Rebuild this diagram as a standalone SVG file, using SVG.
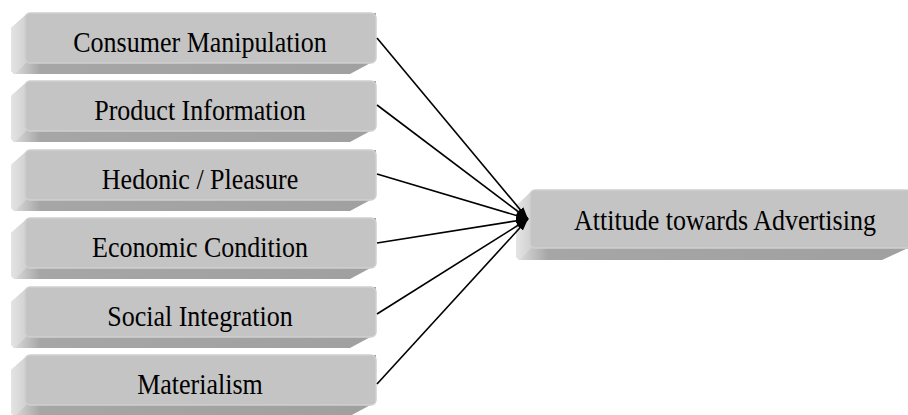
<svg xmlns="http://www.w3.org/2000/svg" width="908" height="415" viewBox="0 0 908 415">
<style>
.front{fill:#c4c4c4;stroke:#d0d0d0;stroke-width:1.5}
.ext{fill:url(#band)}
.side{fill:url(#side)}
.lbl{font-family:"Liberation Serif","Times New Roman",serif;font-size:26px;fill:#000;text-anchor:middle}
.con{stroke:#000;stroke-width:1.6;fill:none;marker-end:url(#ah)}
</style>
<defs>
<linearGradient id="band" x1="0" y1="0" x2="1" y2="0">
<stop offset="0" stop-color="#e0e0e0"/>
<stop offset="0.08" stop-color="#a6a6a6"/>
<stop offset="1" stop-color="#a0a0a0"/>
</linearGradient>
<linearGradient id="side" x1="0" y1="0" x2="1" y2="0">
<stop offset="0" stop-color="#e4e4e4"/>
<stop offset="1" stop-color="#cfcfcf"/>
</linearGradient>
<marker id="ah" markerUnits="userSpaceOnUse" markerWidth="12" markerHeight="8" refX="12" refY="4" orient="auto">
<path d="M0,0 L12,4 L0,8 z" fill="#000"/>
</marker>
<g id="lbox">
<polygon class="ext" points="28,0 11,15 11,58 14,61 350,61 376,47 376,0"/>
<polygon class="side" points="28,0 11,15 11,57 15,61 26,50 26,3"/>
<rect class="front" x="25" y="0" width="351" height="50" rx="5"/>
</g>
</defs>
<g id="n1" transform="translate(0,13)"><use href="#lbox"/><text class="lbl" transform="translate(200,39) scale(1,1.1)">Consumer Manipulation</text></g>
<g id="n2" transform="translate(0,81)"><use href="#lbox"/><text class="lbl" transform="translate(200,39) scale(1,1.1)">Product Information</text></g>
<g id="n3" transform="translate(0,150)"><use href="#lbox"/><text class="lbl" transform="translate(200,39) scale(1,1.1)">Hedonic / Pleasure</text></g>
<g id="n4" transform="translate(0,218)"><use href="#lbox"/><text class="lbl" transform="translate(200,39) scale(1,1.1)">Economic Condition</text></g>
<g id="n5" transform="translate(0,287)"><use href="#lbox"/><text class="lbl" transform="translate(200,39) scale(1,1.1)">Social Integration</text></g>
<g id="n6" transform="translate(0,355)"><use href="#lbox"/><text class="lbl" transform="translate(200,39) scale(1,1.1)">Materialism</text></g>
<g id="target">
<polygon class="ext" points="533,190 516,206 516,257 519,260 882,260 906,249 920,249 920,190"/>
<polygon class="side" points="533,190 516,206 516,256 520,260 531,248 531,193"/>
<rect class="front" x="530" y="190" width="400" height="58" rx="5"/>
<text class="lbl" transform="translate(725,230) scale(1,1.1)">Attitude towards Advertising</text>
</g>
<g id="connectors">
<line class="con" x1="377" y1="38" x2="528" y2="219"/>
<line class="con" x1="377" y1="105" x2="528" y2="219"/>
<line class="con" x1="377" y1="174" x2="528" y2="219"/>
<line class="con" x1="377" y1="243" x2="528" y2="219"/>
<line class="con" x1="377" y1="314" x2="528" y2="219"/>
<line class="con" x1="377" y1="384" x2="528" y2="219"/>
</g>
</svg>
